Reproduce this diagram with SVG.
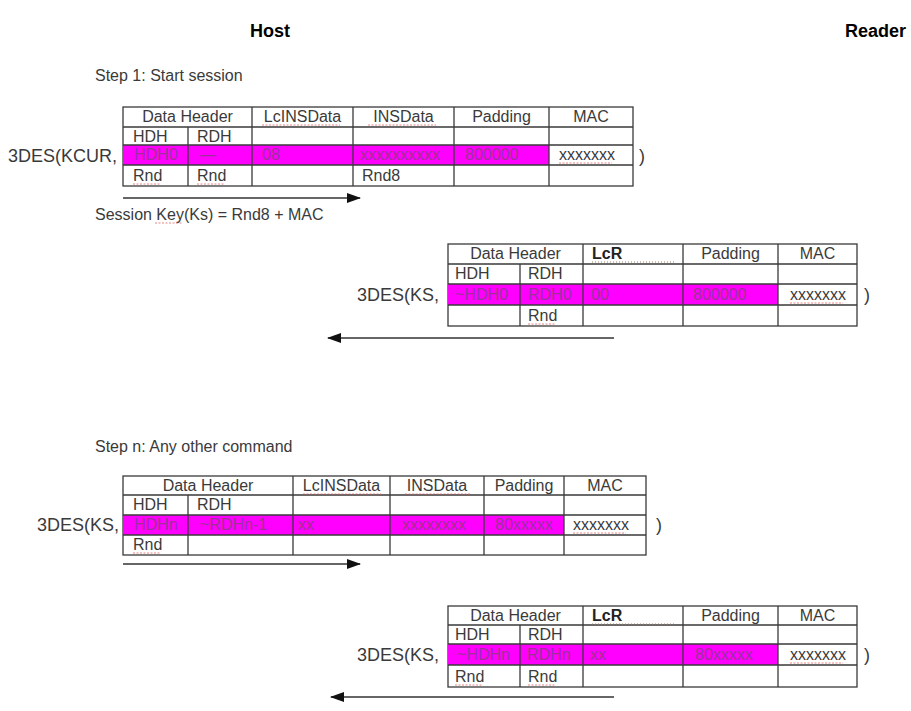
<svg xmlns="http://www.w3.org/2000/svg" width="911" height="711" viewBox="0 0 911 711">
<defs>
<marker id="ah" markerWidth="14" markerHeight="10" refX="13" refY="5" orient="auto" markerUnits="userSpaceOnUse">
<path d="M0,0 L14,5 L0,10 z" fill="#111"/>
</marker>
<style>
.bg{fill:#fff;stroke:#3a3a3a;stroke-width:1.3}
.ln{stroke:#3a3a3a;stroke-width:1.3;fill:none}
.pink{fill:#ff00ff}
.t{font-family:"Liberation Sans",Arial,sans-serif;font-size:16px;fill:#3a3a3a}
.c{text-anchor:middle}
.pt{fill:#9c3296}
.lbl{font-size:18px;fill:#3a3a3a}
.b{font-weight:bold;fill:#222}
.title{font-family:"Liberation Sans",Arial,sans-serif;font-size:18px;font-weight:bold;fill:#000}
.sq{stroke:#e05050;stroke-width:1;fill:none;stroke-dasharray:2 1.5;opacity:0.7}
.dot{stroke:#a08060;stroke-width:1;fill:none;stroke-dasharray:1 2}
.arr{stroke:#333;stroke-width:1.6;fill:none}
</style>
</defs>
<rect width="911" height="711" fill="#fff"/>

<g id="titles">
<text class="title" x="250" y="37">Host</text>
<text class="title" x="906" y="37" text-anchor="end">Reader</text>
</g>

<g id="step1-label">
<text class="t" x="95" y="81">Step 1: Start session</text>
</g>

<g id="table1">
<rect class="bg" x="123" y="107" width="510" height="79"/>
<rect class="pink" x="123" y="145" width="426" height="20"/>
<path class="ln" d="M123,127H633M123,145H633M123,165H633M188,127V186M252,107V186M353,107V186M454,107V186M549,107V186"/>
<text class="t c" x="187.5" y="122">Data Header</text>
<text class="t c" x="302.5" y="122">LcINSData</text>
<text class="t c" x="403.5" y="122">INSData</text>
<text class="t c" x="501.5" y="122">Padding</text>
<text class="t c" x="591" y="122">MAC</text>
<text class="t" x="133" y="142">HDH</text>
<text class="t" x="197" y="142">RDH</text>
<text class="t pt" x="134" y="160">HDH0</text>
<text class="t pt" x="200" y="160">—</text>
<text class="t pt" x="262" y="160">08</text>
<text class="t pt" x="360" y="160">xxxxxxxxxx</text>
<text class="t pt" x="465" y="160">800000</text>
<text class="t" x="559" y="160">xxxxxxx</text>
<text class="t" x="133" y="181">Rnd</text>
<text class="t" x="197" y="181">Rnd</text>
<text class="t" x="362" y="181">Rnd8</text>
<path class="sq" d="M262,125H340M368,125H436M133,184H160M197,184H224M559,163H612"/>
<text class="t lbl" x="8" y="162">3DES(KCUR,</text>
<text class="t lbl" x="639" y="162">)</text>
</g>

<g id="session-key">
<text class="t" x="95" y="220">Session Key(Ks) = Rnd8 + MAC</text>
<path class="sq" d="M155,223H182"/>
</g>

<g id="table2">
<rect class="bg" x="448" y="244" width="409" height="82"/>
<rect class="pink" x="448" y="284" width="330" height="21"/>
<path class="ln" d="M448,264H857M448,284H857M448,305H857M520,264V326M583,244V326M683,244V326M778,244V326"/>
<text class="t c" x="515.5" y="259">Data Header</text>
<text class="t b" x="592" y="259">LcR</text>
<path class="dot" d="M592,262H675"/>
<text class="t c" x="730.5" y="259">Padding</text>
<text class="t c" x="817.5" y="259">MAC</text>
<text class="t" x="455" y="279">HDH</text>
<text class="t" x="528" y="279">RDH</text>
<text class="t pt" x="455" y="300">~HDH0</text>
<text class="t pt" x="528" y="300">RDH0</text>
<text class="t pt" x="591" y="300">00</text>
<text class="t pt" x="693" y="300">800000</text>
<text class="t" x="790" y="300">xxxxxxx</text>
<text class="t" x="528" y="321">Rnd</text>
<path class="sq" d="M528,324H555M790,303H843"/>
<text class="t lbl" x="357" y="301">3DES(KS,</text>
<text class="t lbl" x="864" y="301">)</text>
</g>

<g id="step-n-label">
<text class="t" x="95" y="452">Step n: Any other command</text>
</g>

<g id="table3">
<rect class="bg" x="123" y="476" width="523" height="79"/>
<rect class="pink" x="123" y="515" width="441" height="20"/>
<path class="ln" d="M123,495H646M123,515H646M123,535H646M188,495V555M293,476V555M390,476V555M484,476V555M564,476V555"/>
<text class="t c" x="208" y="491">Data Header</text>
<text class="t c" x="341.5" y="491">LcINSData</text>
<text class="t c" x="437" y="491">INSData</text>
<text class="t c" x="524" y="491">Padding</text>
<text class="t c" x="605" y="491">MAC</text>
<text class="t" x="133" y="510">HDH</text>
<text class="t" x="197" y="510">RDH</text>
<text class="t pt" x="134" y="530">HDHn</text>
<text class="t pt" x="200" y="530">~RDHn-1</text>
<text class="t pt" x="298" y="530">xx</text>
<text class="t pt" x="402" y="530">xxxxxxxx</text>
<text class="t pt" x="495" y="530">80xxxxx</text>
<text class="t" x="573" y="530">xxxxxxx</text>
<text class="t" x="133" y="550">Rnd</text>
<path class="sq" d="M303,494H381M405,494H470M133,553H160M573,533H626"/>
<text class="t lbl" x="37" y="531">3DES(KS,</text>
<text class="t lbl" x="656" y="531">)</text>
</g>

<g id="table4">
<rect class="bg" x="448" y="606" width="409" height="81"/>
<rect class="pink" x="448" y="644" width="330" height="21"/>
<path class="ln" d="M448,625H857M448,644H857M448,665H857M520,625V687M583,606V687M683,606V687M778,606V687"/>
<text class="t c" x="515.5" y="621">Data Header</text>
<text class="t b" x="592" y="621">LcR</text>
<path class="dot" d="M592,624H675"/>
<text class="t c" x="730.5" y="621">Padding</text>
<text class="t c" x="817.5" y="621">MAC</text>
<text class="t" x="455" y="640">HDH</text>
<text class="t" x="528" y="640">RDH</text>
<text class="t pt" x="457" y="660">~HDHn</text>
<text class="t pt" x="527" y="660">RDHn</text>
<text class="t pt" x="590" y="660">xx</text>
<text class="t pt" x="695" y="660">80xxxxx</text>
<text class="t" x="790" y="660">xxxxxxx</text>
<text class="t" x="455" y="682">Rnd</text>
<text class="t" x="528" y="682">Rnd</text>
<path class="sq" d="M455,685H482M528,685H555M790,663H843"/>
<text class="t lbl" x="357" y="661">3DES(KS,</text>
<text class="t lbl" x="864" y="661">)</text>
</g>

<g id="connectors">
<line class="arr" x1="123" y1="198" x2="360" y2="198" marker-end="url(#ah)"/>
<line class="arr" x1="614" y1="338" x2="328" y2="338" marker-end="url(#ah)"/>
<line class="arr" x1="123" y1="564" x2="360" y2="564" marker-end="url(#ah)"/>
<line class="arr" x1="614" y1="697" x2="331" y2="697" marker-end="url(#ah)"/>
</g>
</svg>
